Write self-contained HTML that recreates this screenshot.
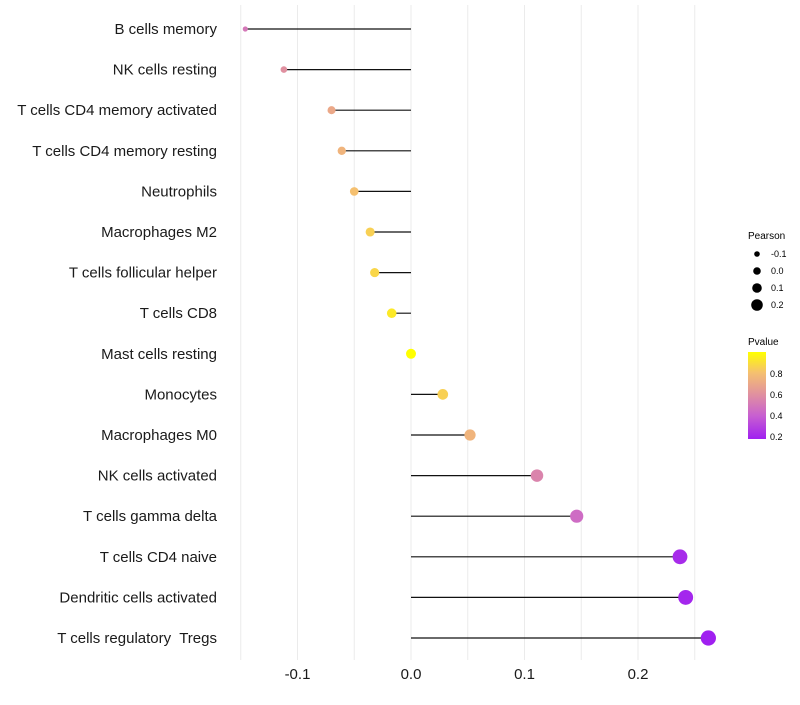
<!DOCTYPE html>
<html><head><meta charset="utf-8"><style>
body{margin:0;background:#fff;font-family:"Liberation Sans",sans-serif}
svg text{font-family:"Liberation Sans",sans-serif}
</style></head><body>
<svg width="800" height="700">
<defs><linearGradient id="pg" x1="0" y1="1" x2="0" y2="0">
<stop offset="0" stop-color="#a020f0"/><stop offset="0.27" stop-color="#c860d0"/><stop offset="0.51" stop-color="#e090a0"/><stop offset="0.76" stop-color="#f5c070"/><stop offset="1" stop-color="#ffff00"/>
</linearGradient></defs>
<g id="grid"></g>
<g id="marks"></g>
<g id="ylabels"></g>
<g id="xlabels"></g>
<g>
<text x="748" y="239" font-size="10">Pearson</text>
<g id="sizeleg"></g>
</g>
<g>
<text x="748" y="345" font-size="10">Pvalue</text>
<rect x="748" y="352" width="18" height="87" fill="url(#pg)"/>
<text x="770" y="377" font-size="9">0.8</text>
<text x="770" y="398" font-size="9">0.6</text>
<text x="770" y="419" font-size="9">0.4</text>
<text x="770" y="440" font-size="9">0.2</text>
</g>
</svg>
<script>
const categories=["B cells memory","NK cells resting","T cells CD4 memory activated","T cells CD4 memory resting","Neutrophils","Macrophages M2","T cells follicular helper","T cells CD8","Mast cells resting","Monocytes","Macrophages M0","NK cells activated","T cells gamma delta","T cells CD4 naive","Dendritic cells activated","T cells regulatory  Tregs"];
const pearson=[-0.146,-0.112,-0.070,-0.061,-0.050,-0.036,-0.032,-0.017,0.000,0.028,0.052,0.111,0.146,0.237,0.242,0.262];
const pvalue=[0.5,0.6,0.7,0.75,0.8,0.85,0.87,0.93,1.0,0.85,0.75,0.55,0.45,0.22,0.2,0.18];
const xTicks=[-0.1,0,0.1,0.2];
const xTickLabels=["-0.1","0.0","0.1","0.2"];
const sizeLegend=[-0.1,0,0.1,0.2];
const NS="http://www.w3.org/2000/svg";
const x=v=>411+v*1135;
const y=i=>29+i*40.6;
const r=v=>Math.max(1.5,Math.sqrt(Math.max(0,25+126*v)));
const stops=[[0.18,[160,32,240]],[0.4,[200,96,208]],[0.6,[224,144,160]],[0.8,[245,192,112]],[1.0,[255,255,0]]];
function col(p){p=Math.max(0.18,Math.min(1,p));for(let k=0;k<stops.length-1;k++){const a=stops[k],b=stops[k+1];if(p<=b[0]){const t=(p-a[0])/(b[0]-a[0]);return "rgb("+a[1].map((c,j)=>Math.round(c+(b[1][j]-c)*t)).join(",")+")";}}return "rgb(255,255,0)";}
function mk(t,a,parent){const e=document.createElementNS(NS,t);for(const k in a)e.setAttribute(k,a[k]);parent.appendChild(e);return e;}
const grid=document.getElementById("grid");
for(let g=-0.15;g<=0.26;g+=0.05){const gl=mk("line",{x1:x(g),x2:x(g),y1:5,y2:660,stroke:"#ebebeb","stroke-width":1},grid);

}
const marks=document.getElementById("marks"),yl=document.getElementById("ylabels");
categories.forEach((c,i)=>{
const ln=mk("line",{x1:x(0),x2:x(pearson[i]),y1:y(i),y2:y(i),stroke:"#111","stroke-width":1.2},marks);


const pt=mk("circle",{cx:x(pearson[i]),cy:y(i),r:r(pearson[i]),fill:col(pvalue[i])},marks);


const t=mk("text",{x:217,y:y(i)+5,"font-size":15,"text-anchor":"end",fill:"#1a1a1a","xml:space":"preserve",style:"white-space:pre"},yl);t.textContent=c;


});
const xl=document.getElementById("xlabels");
xTicks.forEach((v,i)=>{const t=mk("text",{x:x(v),y:679,"font-size":15,"text-anchor":"middle",fill:"#1a1a1a"},xl);t.textContent=xTickLabels[i];

});
const sl=document.getElementById("sizeleg");
sizeLegend.forEach((v,i)=>{const cy=254+i*17;
const c=mk("circle",{cx:757,cy:cy,r:3.8+10*v,fill:"#000"},sl);


const t=mk("text",{x:771,y:cy+3,"font-size":9},sl);t.textContent=v===0?"0.0":String(v);

});
</script>
</body></html>
